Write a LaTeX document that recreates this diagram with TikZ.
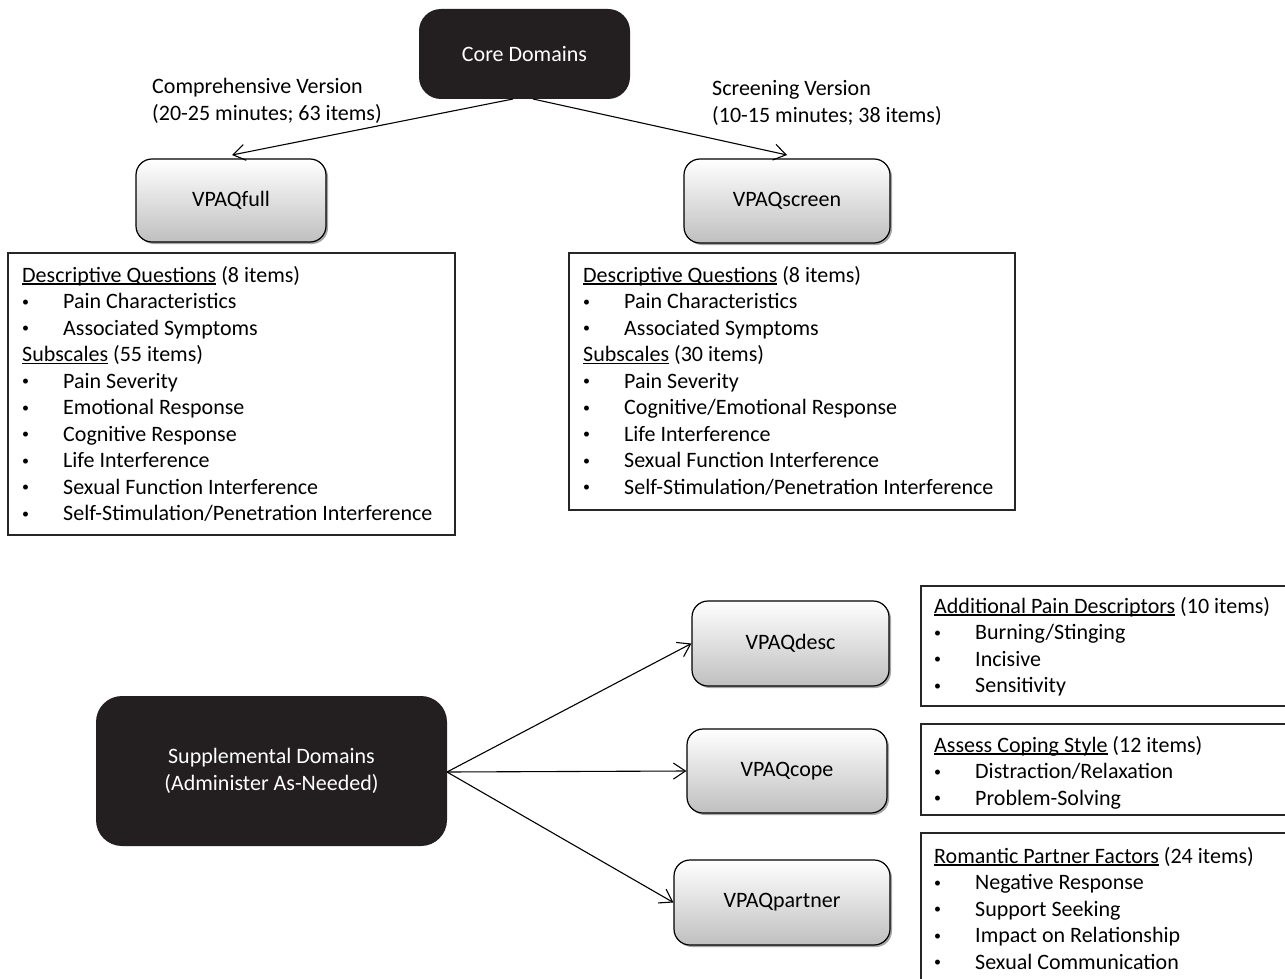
\documentclass[tikz,border=0pt]{standalone}
\usepackage{fontspec}
\setmainfont{Carlito}
\usetikzlibrary{arrows.meta,shadows}
\definecolor{boxblack}{HTML}{231F20}
\newcommand{\bl}{\makebox[41pt][l]{\raisebox{2.2pt}{\fontsize{14}{14}\selectfont\textbullet}}}
\newcommand{\ulx}[1]{{\setbox0\hbox{#1}\rlap{\rule[-2.6pt]{\wd0}{1.3pt}}\box0}}
\begin{document}
\begin{tikzpicture}[x=1pt,y=-1pt,
  every node/.style={font=\fontsize{22}{26.5}\selectfont},
  darkbox/.style={draw=none,fill=boxblack,rounded corners=22pt,text=white,align=center,inner sep=0pt},
  greybox/.style={draw=black,line width=1.2pt,rounded corners=16pt,top color=white,bottom color=black!25,
     drop shadow={shadow xshift=2pt,shadow yshift=-2pt,opacity=0.35,fill=black},inner sep=0pt},
  listbox/.style={draw=black!85,line width=1.5pt,inner sep=0pt},
  listtext/.style={anchor=base west,inner sep=0pt},
  arr/.style={line width=1.1pt,-{Straight Barb[length=12pt,width=16pt,line width=1.1pt]}},
  lbl/.style={anchor=base west,inner sep=0pt,align=left}
]
\useasboundingbox (0,0) rectangle (1285,979);
% top
\node[darkbox,minimum width=211pt,minimum height=90pt] (core) at (524.5,54) {Core Domains};
\node[greybox,minimum width=190pt,minimum height=83pt] (full) at (231,200.5) {VPAQfull};
\node[greybox,minimum width=206pt,minimum height=84pt] (screen) at (787,201) {VPAQscreen};
\coordinate (cl) at (513,99);
\coordinate (cr) at (533,99);
\coordinate (fullt) at (232,155);
\coordinate (screent) at (787,155);
\draw[arr] (cl) -- (fullt);
\draw[arr] (cr) -- (screent);
\node[lbl] (lblc) at (152,94) {\begin{tabular}[t]{@{}l@{}}Comprehensive Version\\(20-25 minutes; 63 items)\end{tabular}};
\node[lbl] (lbls) at (712,96) {\begin{tabular}[t]{@{}l@{}}Screening Version\\(10-15 minutes; 38 items)\end{tabular}};
% list boxes top
\node[listbox,minimum width=447pt,minimum height=282pt] (lbox) at (231.5,394) {};
\node[listtext] (ltext) at (22,282) {\begin{tabular}[t]{@{}l@{}}
\ulx{Descriptive Questions} (8 items)\\
\bl Pain Characteristics\\
\bl Associated Symptoms\\
\ulx{Subscales} (55 items)\\
\bl Pain Severity\\
\bl Emotional Response\\
\bl Cognitive Response\\
\bl Life Interference\\
\bl Sexual Function Interference\\
\bl Self-Stimulation/Penetration Interference
\end{tabular}};
\node[listbox,minimum width=446pt,minimum height=257pt] (rbox) at (792,381.5) {};
\node[listtext] (rtext) at (583,282) {\begin{tabular}[t]{@{}l@{}}
\ulx{Descriptive Questions} (8 items)\\
\bl Pain Characteristics\\
\bl Associated Symptoms\\
\ulx{Subscales} (30 items)\\
\bl Pain Severity\\
\bl Cognitive/Emotional Response\\
\bl Life Interference\\
\bl Sexual Function Interference\\
\bl Self-Stimulation/Penetration Interference
\end{tabular}};
% bottom
\node[darkbox,minimum width=351pt,minimum height=150pt,rounded corners=26pt] (supp) at (271.5,771) {Supplemental Domains\\(Administer As-Needed)};
\node[greybox,minimum width=197pt,minimum height=85pt] (desc) at (790.5,643.5) {VPAQdesc};
\node[greybox,minimum width=200pt,minimum height=84pt] (cope) at (787,771) {VPAQcope};
\node[greybox,minimum width=216pt,minimum height=85pt] (partner) at (782,902.5) {VPAQpartner};
\coordinate (sr) at (447,772);
\draw[arr] (sr) -- (desc.west);
\draw[arr] (sr) -- (cope.west);
\draw[arr] (sr) -- (partner.west);
\node[listbox,minimum width=370pt,minimum height=120pt] (dbox) at (1106,646) {};
\node[listbox,minimum width=370pt,minimum height=91pt] (cbox) at (1106,769.5) {};
\node[listbox,minimum width=370pt,minimum height=160pt] (pbox) at (1106,913) {};
\node[listtext] (dtext) at (934,613) {\begin{tabular}[t]{@{}l@{}}
\ulx{Additional Pain Descriptors} (10 items)\\
\bl Burning/Stinging\\
\bl Incisive\\
\bl Sensitivity
\end{tabular}};
\node[listtext] (ctext) at (934,752) {\begin{tabular}[t]{@{}l@{}}
\ulx{Assess Coping Style} (12 items)\\
\bl Distraction/Relaxation\\
\bl Problem-Solving
\end{tabular}};
\node[listtext] (ptext) at (934,863) {\begin{tabular}[t]{@{}l@{}}
\ulx{Romantic Partner Factors} (24 items)\\
\bl Negative Response\\
\bl Support Seeking\\
\bl Impact on Relationship\\
\bl Sexual Communication
\end{tabular}};
\end{tikzpicture}
\end{document}
